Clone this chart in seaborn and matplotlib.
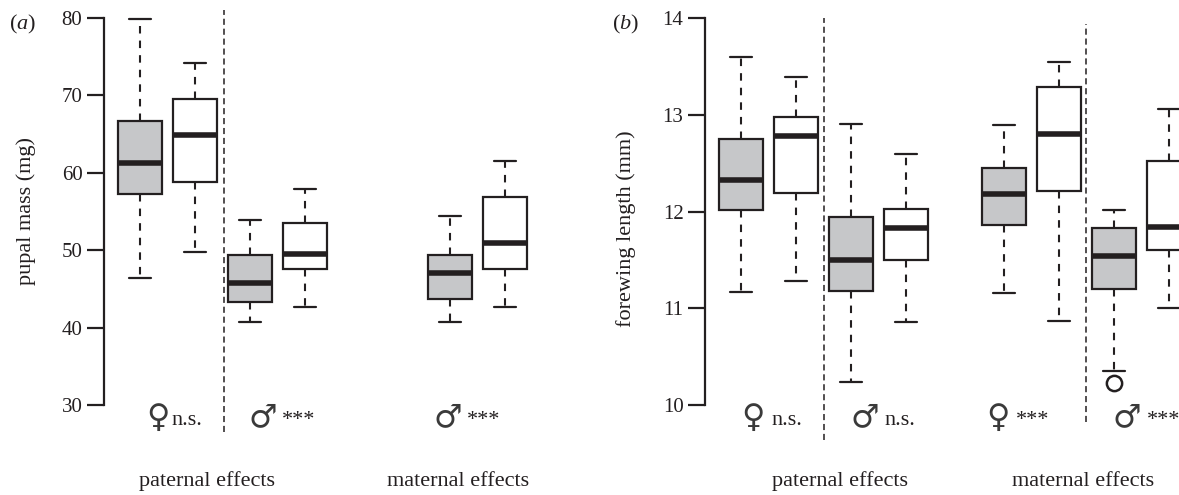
import numpy as np
import pandas as pd
import matplotlib
matplotlib.use("Agg")
import matplotlib.pyplot as plt
import seaborn as sns

# ---- data -------------------------------------------------------------
# (a) pupal mass (mg): five-number summaries per box
pos_a = [1, 2, 3, 4, 6.63, 7.63]
fill_a = ["grey", "white", "grey", "white", "grey", "white"]
lo_a = [46.41, 49.81, 40.68, 42.70, 40.68, 42.70]
q1_a = [57.26, 58.81, 43.27, 47.53, 43.70, 47.53]
med_a = [61.27, 64.92, 45.72, 49.51, 47.02, 50.97]
q3_a = [66.69, 69.57, 49.38, 53.48, 49.38, 56.91]
hi_a = [79.83, 74.22, 53.90, 57.91, 54.42, 61.52]
out_a = [None, None, None, None, None, None]

# (b) forewing length (mm)
pos_b = [1, 2, 3, 4, 5.78, 6.78, 7.78, 8.78]
fill_b = ["grey", "white"] * 4
lo_b = [11.17, 11.28, 10.24, 10.86, 11.16, 10.87, 10.356, 11.00]
q1_b = [12.02, 12.19, 11.18, 11.50, 11.86, 12.21, 11.20, 11.60]
med_b = [12.33, 12.78, 11.50, 11.83, 12.18, 12.80, 11.54, 11.845]
q3_b = [12.75, 12.98, 11.945, 12.03, 12.45, 13.29, 11.83, 12.52]
hi_b = [13.60, 13.39, 12.91, 12.60, 12.90, 13.545, 12.02, 13.065]
out_b = [None, None, None, None, None, None, 10.225, None]

# sex symbol and significance for each comparison
sex_a = ["\u2640", "\u2642", "\u2642"]
sig_a = ["n.s.", "***", "***"]
sex_a_x = [1.327, 3.236, 6.60]
sig_a_x = [1.564, 3.582, 6.936]
sex_b = ["\u2640", "\u2642", "\u2640", "\u2642"]
sig_b = ["n.s.", "n.s.", "***", "***"]
sex_b_x = [1.218, 3.247, 5.673, 8.018]
sig_b_x = [1.545, 3.60, 6.00, 8.382]
group_names = ["paternal effects", "maternal effects"]


def sample(lo, q1, med, q3, hi, out=None):
    """Nine values whose quartiles and whisker ends equal the summary."""
    first = lo if out is None else out
    return [first, lo, q1, q1, med, q3, q3, hi, hi]


def long_frame(pos, fill, lo, q1, med, q3, hi, out):
    rows = []
    for p, f, a, b, c, d, e, o in zip(pos, fill, lo, q1, med, q3, hi, out):
        for v in sample(a, b, c, d, e, o):
            rows.append({"pos": p, "fill": f, "value": v})
    return pd.DataFrame(rows)


df_a = long_frame(pos_a, fill_a, lo_a, q1_a, med_a, q3_a, hi_a, out_a)
df_b = long_frame(pos_b, fill_b, lo_b, q1_b, med_b, q3_b, hi_b, out_b)

# ---- style ------------------------------------------------------------
sns.set_style("ticks")
SERIF = ["Liberation Serif", "DejaVu Serif"]
SYMBOL = ["DejaVu Sans"]
plt.rcParams["font.family"] = SERIF
plt.rcParams["mathtext.fontset"] = "custom"
plt.rcParams["mathtext.rm"] = "Liberation Serif"
plt.rcParams["mathtext.it"] = "Liberation Serif:italic"

DARK = "#231f20"
GREY = "#c6c7c9"

W, H = 1179, 495
fig = plt.figure(figsize=(W / 100, H / 100), dpi=100)


def px_axes(left, right, top, bottom):
    return fig.add_axes([left / W, 1 - bottom / H, (right - left) / W, (bottom - top) / H])


ax_a = px_axes(104, 560, 8, 440)
ax_b = px_axes(705, 1250, 8, 440)

box_kws = dict(
    x="pos", y="value", hue="fill",
    palette={"grey": GREY, "white": "white"},
    native_scale=True, dodge=False, width=0.8,
    linewidth=1.6, linecolor=DARK, whis=1.5, legend=False,
    medianprops=dict(linewidth=4.0, color=DARK, solid_capstyle="butt"),
    whiskerprops=dict(linestyle=(0, (3.6, 3.4)), linewidth=1.5, color=DARK),
    capprops=dict(linewidth=1.6, color=DARK),
    flierprops=dict(marker="o", markersize=11, markerfacecolor="none",
                    markeredgecolor=DARK, markeredgewidth=1.8),
)

sns.boxplot(data=df_a, ax=ax_a, **box_kws)
sns.boxplot(data=df_b, ax=ax_b, **box_kws)

ax_a.set_xlim(0.345, 0.345 + 456 / 55)
ax_a.set_ylim(80 - 422 / 7.74, 80 + 10 / 7.74)
ax_b.set_xlim(0.345, 0.345 + 545 / 55)
ax_b.set_ylim(14 - 421.7 / 96.7, 14 + 10.3 / 96.7)

ax_a.set_yticks([30, 40, 50, 60, 70, 80])
ax_b.set_yticks([10, 11, 12, 13, 14])
ax_a.spines["left"].set_bounds(30, 80)
ax_b.spines["left"].set_bounds(10, 14)

for ax in (ax_a, ax_b):
    ax.set_facecolor("none")
    for side in ("top", "right", "bottom"):
        ax.spines[side].set_visible(False)
    ax.spines["left"].set_linewidth(1.6)
    ax.spines["left"].set_color(DARK)
    ax.set_xticks([])
    ax.set_xlabel("")
    ax.set_ylabel("")
    ax.tick_params(axis="y", left=True, direction="out", length=12.5, width=1.6,
                   color=DARK, pad=3, labelsize=15, labelcolor=DARK)

# separators between effect groups
sep_kws = dict(colors=DARK, linestyles=(0, (4, 2.5)), linewidth=1.1, clip_on=False)
ax_a.vlines(2.527, 80 - (432 - 18) / 7.74, 80 + 8 / 7.74, **sep_kws)
ax_b.vlines(2.509, 14 - (440 - 18.3) / 96.7, 14.0, **sep_kws)
ax_b.vlines(7.27, 14 - (422 - 18.3) / 96.7, 14 - (24 - 18.3) / 96.7, **sep_kws)

# sex symbols and significance labels
y_sym_a = 80 - (418 - 18) / 7.74
y_sig_a = 80 - (425 - 18) / 7.74
for s, sx, g, gx in zip(sex_a, sex_a_x, sig_a, sig_a_x):
    ax_a.text(sx, y_sym_a, s, ha="center", va="center", fontsize=23,
              family=SYMBOL, color="#3a3a3a", clip_on=False)
    ax_a.text(gx, y_sig_a, g, ha="left", va="baseline", fontsize=16,
              color=DARK, clip_on=False)

y_sym_b = 14 - (418 - 18.3) / 96.7
y_sig_b = 14 - (425 - 18.3) / 96.7
for s, sx, g, gx in zip(sex_b, sex_b_x, sig_b, sig_b_x):
    ax_b.text(sx, y_sym_b, s, ha="center", va="center", fontsize=23,
              family=SYMBOL, color="#3a3a3a", clip_on=False)
    ax_b.text(gx, y_sig_b, g, ha="left", va="baseline", fontsize=16,
              color=DARK, clip_on=False)

for name, x in zip(group_names, [2.22, 6.78]):
    ax_a.text(x, 80 - (486 - 18) / 7.74, name, ha="center", va="baseline",
              fontsize=16, color=DARK, clip_on=False)
for name, x in zip(group_names, [2.80, 7.22]):
    ax_b.text(x, 14 - (486 - 18.3) / 96.7, name, ha="center", va="baseline",
              fontsize=16, color=DARK, clip_on=False)

# axis titles and panel letters
fig.text(26 / W, 1 - 211 / H, "pupal mass (mg)", rotation=90, ha="center",
         va="center", fontsize=16, color=DARK)
fig.text(626 / W, 1 - 229 / H, "forewing length (mm)", rotation=90, ha="center",
         va="center", fontsize=16, color=DARK)
fig.text(23 / W, 1 - 24 / H, "($\\mathit{a}$)", ha="center", va="center",
         fontsize=16, color=DARK)
fig.text(626 / W, 1 - 24 / H, "($\\mathit{b}$)", ha="center", va="center",
         fontsize=16, color=DARK)

fig.savefig("out.png", dpi=100)
